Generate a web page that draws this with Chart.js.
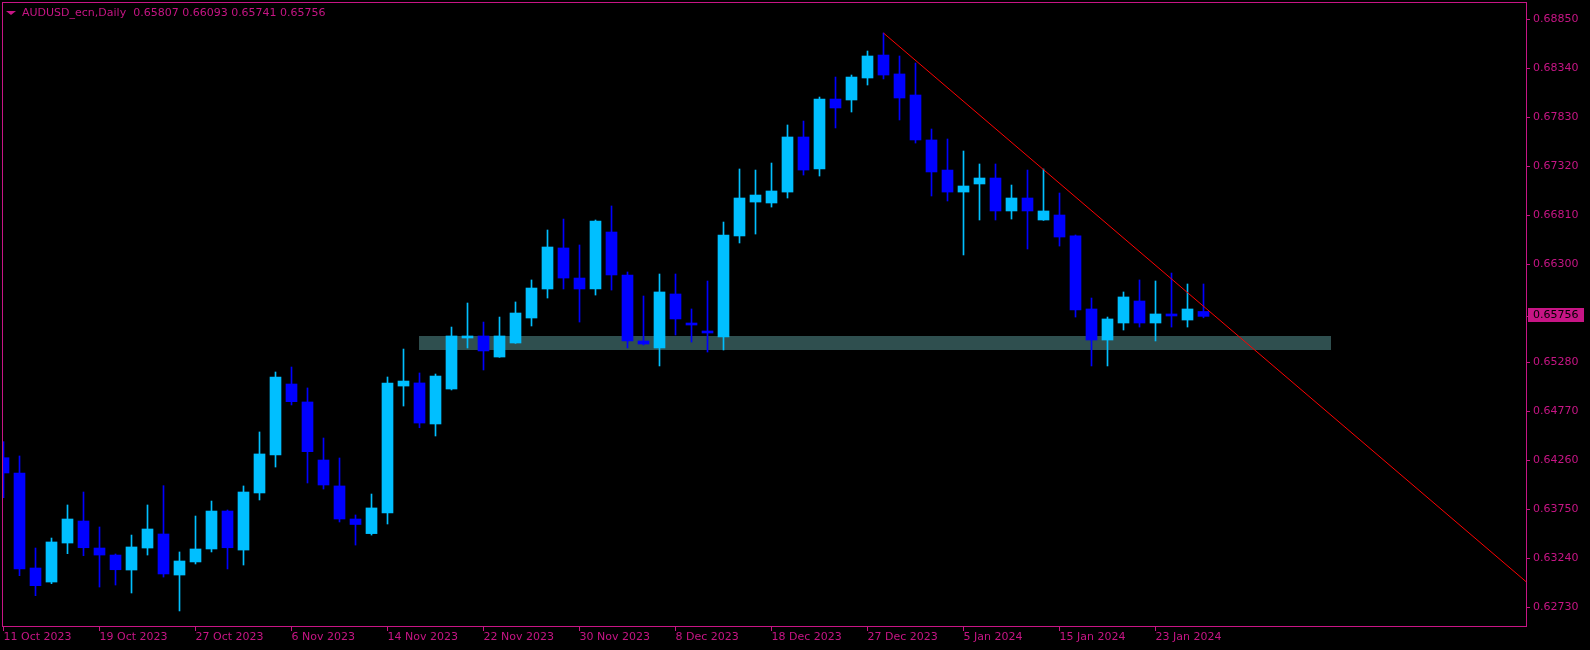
<!DOCTYPE html>
<html>
<head>
<meta charset="utf-8">
<script src="https://cdn.jsdelivr.net/npm/chart.js@4.4.1/dist/chart.umd.min.js"></script>
<style>
  html, body { margin: 0; padding: 0; background: #000; }
  #wrap { position: relative; width: 1590px; height: 650px; }
  #header { position: absolute; left: 22px; top: 6px; font: 11px "DejaVu Sans", sans-serif; line-height: 14px; color: #C71585; white-space: pre; }
  #tri { position: absolute; left: 6px; top: 11px; width: 0; height: 0; border-left: 5px solid transparent; border-right: 5px solid transparent; border-top: 4px solid #C71585; }
</style>
</head>
<body>
<div id="wrap">
  <canvas id="chart" width="1590" height="650"></canvas>
  <div id="tri"></div>
  <div id="header">AUDUSD_ecn,Daily  0.65807 0.66093 0.65741 0.65756</div>
</div>
<script>
//Trading days (one candle each)
const dates = [
  '11 Oct 2023','12 Oct 2023','13 Oct 2023','16 Oct 2023','17 Oct 2023','18 Oct 2023','19 Oct 2023','20 Oct 2023','23 Oct 2023','24 Oct 2023',
  '25 Oct 2023','26 Oct 2023','27 Oct 2023','30 Oct 2023','31 Oct 2023','1 Nov 2023','2 Nov 2023','3 Nov 2023','6 Nov 2023','7 Nov 2023',
  '8 Nov 2023','9 Nov 2023','10 Nov 2023','13 Nov 2023','14 Nov 2023','15 Nov 2023','16 Nov 2023','17 Nov 2023','20 Nov 2023','21 Nov 2023',
  '22 Nov 2023','23 Nov 2023','24 Nov 2023','27 Nov 2023','28 Nov 2023','29 Nov 2023','30 Nov 2023','1 Dec 2023','4 Dec 2023','5 Dec 2023',
  '6 Dec 2023','7 Dec 2023','8 Dec 2023','11 Dec 2023','12 Dec 2023','13 Dec 2023','14 Dec 2023','15 Dec 2023','18 Dec 2023','19 Dec 2023',
  '20 Dec 2023','21 Dec 2023','22 Dec 2023','26 Dec 2023','27 Dec 2023','28 Dec 2023','29 Dec 2023','2 Jan 2024','3 Jan 2024','4 Jan 2024',
  '5 Jan 2024','8 Jan 2024','9 Jan 2024','10 Jan 2024','11 Jan 2024','12 Jan 2024','15 Jan 2024','16 Jan 2024','17 Jan 2024','18 Jan 2024',
  '19 Jan 2024','22 Jan 2024','23 Jan 2024','24 Jan 2024','25 Jan 2024','26 Jan 2024'
];

//OHLC values
const opens = [
  0.64285, 0.64126, 0.63137, 0.62991, 0.63397, 0.63626, 0.63345, 0.63272, 0.63116, 0.63345,
  0.63491, 0.63064, 0.63200, 0.63335, 0.63730, 0.63324, 0.63918, 0.64313, 0.65052, 0.64865,
  0.64261, 0.63991, 0.63647, 0.63495, 0.63710, 0.65031, 0.65063, 0.64636, 0.65000, 0.65531,
  0.65552, 0.65333, 0.65479, 0.65739, 0.66041, 0.66468, 0.66155, 0.66041, 0.66634, 0.66187,
  0.65500, 0.65427, 0.65989, 0.65687, 0.65604, 0.65541, 0.66593, 0.66946, 0.66936, 0.67050,
  0.67623, 0.67290, 0.68018, 0.68008, 0.68237, 0.68476, 0.68279, 0.68060, 0.67592, 0.67279,
  0.67050, 0.67134, 0.67196, 0.66853, 0.66988, 0.66759, 0.66811, 0.66593, 0.65833, 0.65510,
  0.65687, 0.65916, 0.65687, 0.65781, 0.65718, 0.65807
];
const highs = [
  0.64452, 0.64303, 0.63345, 0.63449, 0.63793, 0.63928, 0.63564, 0.63283, 0.63480, 0.63793,
  0.63994, 0.63304, 0.63678, 0.63834, 0.63741, 0.63991, 0.64553, 0.65177, 0.65229, 0.65011,
  0.64490, 0.64282, 0.63689, 0.63907, 0.65125, 0.65416, 0.65167, 0.65156, 0.65645, 0.65895,
  0.65697, 0.65749, 0.65906, 0.66135, 0.66655, 0.66769, 0.66499, 0.66759, 0.66905, 0.66218,
  0.65968, 0.66197, 0.66197, 0.65833, 0.66124, 0.66738, 0.67290, 0.67279, 0.67352, 0.67748,
  0.67789, 0.68039, 0.68247, 0.68268, 0.68518, 0.68705, 0.68466, 0.68393, 0.67706, 0.67602,
  0.67477, 0.67342, 0.67342, 0.67123, 0.67279, 0.67290, 0.67040, 0.66603, 0.65947, 0.65749,
  0.66010, 0.66135, 0.66124, 0.66207, 0.66093, 0.66093
];
const lows = [
  0.63869, 0.63057, 0.62849, 0.62974, 0.63286, 0.63265, 0.62939, 0.62960, 0.62877, 0.63272,
  0.63043, 0.62690, 0.63179, 0.63304, 0.63127, 0.63168, 0.63845, 0.64188, 0.64834, 0.64022,
  0.63959, 0.63616, 0.63376, 0.63480, 0.63595, 0.64823, 0.64597, 0.64511, 0.64990, 0.65427,
  0.65198, 0.65330, 0.65475, 0.65656, 0.65947, 0.66041, 0.65697, 0.65978, 0.66030, 0.65427,
  0.65458, 0.65240, 0.65562, 0.65489, 0.65385, 0.65406, 0.66520, 0.66613, 0.66894, 0.66988,
  0.67227, 0.67217, 0.67717, 0.67883, 0.68164, 0.68227, 0.67800, 0.67560, 0.67009, 0.66957,
  0.66395, 0.66759, 0.66759, 0.66769, 0.66457, 0.66755, 0.66488, 0.65749, 0.65240, 0.65240,
  0.65614, 0.65645, 0.65500, 0.65645, 0.65645, 0.65741
];
const closes = [
  0.64126, 0.63127, 0.62953, 0.63408, 0.63647, 0.63348, 0.63272, 0.63119, 0.63356, 0.63543,
  0.63075, 0.63210, 0.63335, 0.63730, 0.63348, 0.63928, 0.64324, 0.65125, 0.64868, 0.64348,
  0.64001, 0.63647, 0.63590, 0.63762, 0.65063, 0.65083, 0.64646, 0.65135, 0.65552, 0.65552,
  0.65396, 0.65552, 0.65791, 0.66051, 0.66478, 0.66155, 0.66041, 0.66749, 0.66187, 0.65500,
  0.65468, 0.66010, 0.65729, 0.65666, 0.65583, 0.66603, 0.66988, 0.67019, 0.67061, 0.67623,
  0.67279, 0.68018, 0.67925, 0.68247, 0.68466, 0.68268, 0.68029, 0.67592, 0.67259, 0.67050,
  0.67113, 0.67196, 0.66853, 0.66988, 0.66853, 0.66853, 0.66582, 0.65822, 0.65510, 0.65729,
  0.65958, 0.65687, 0.65781, 0.65760, 0.65833, 0.65756
];

//Axis labels
const xTickLabels = ['11 Oct 2023','19 Oct 2023','27 Oct 2023','6 Nov 2023','14 Nov 2023','22 Nov 2023','30 Nov 2023',
  '8 Dec 2023','18 Dec 2023','27 Dec 2023','5 Jan 2024','15 Jan 2024','23 Jan 2024'];
const yTicks = [0.68850, 0.68340, 0.67830, 0.67320, 0.66810, 0.66300, 0.65280, 0.64770, 0.64260, 0.63750, 0.63240, 0.62730];

//Support zone (bar index, price) and the falling trend line
const zoneFrom = 25.97, zoneTo = 82.97;
const zoneTop = 0.65552, zoneBottom = 0.65406;
const trendX = [55, 95.22];
const trendY = [0.68705, 0.62986];

const axisColor = '#C71585';
const bullColor = '#00BFFF';
const bearColor = '#0000FF';

const candleColor = ctx => {
    const i = ctx.dataIndex;
    return closes[i] >= opens[i] ? bullColor : bearColor;
};

const wicks = dates.map((d, i) => ({ x: i, y: [lows[i], highs[i]] }));
const bodies = dates.map((d, i) => ({ x: i, y: [opens[i], closes[i]] }));

//Frame and last price box
const framePlugin = {
    id: 'frame',
    afterDraw(chart) {
        const a = chart.chartArea;
        const c = chart.ctx;
        c.save();
        c.strokeStyle = axisColor;
        c.lineWidth = 1;
        c.strokeRect(a.left + 0.5, a.top + 0.5, a.right - a.left - 1, a.bottom - a.top - 1);

        const last = closes[closes.length - 1];
        const y = Math.round(chart.scales.y.getPixelForValue(last));
        c.fillStyle = axisColor;
        c.fillRect(a.right + 1, y - 8, 56, 14);
        c.fillRect(a.right - 1, y, 2, 1);
        c.fillStyle = '#000';
        c.font = '11px "DejaVu Sans"';
        c.textBaseline = 'middle';
        c.fillText(last.toFixed(5), a.right + 6, y - 1);
        c.restore();
    }
};

Chart.defaults.font.family = '"DejaVu Sans", sans-serif';
Chart.defaults.font.size = 11;

new Chart(document.getElementById('chart').getContext('2d'), {
    type: 'bar',
    data: {
        datasets: [
            {
                type: 'line',
                data: trendX.map((x, i) => ({ x: x, y: trendY[i] })),
                borderColor: '#FF0000',
                borderWidth: 1,
                pointRadius: 0,
                fill: false,
                order: 0
            },
            {
                data: bodies,
                backgroundColor: candleColor,
                barThickness: 11,
                grouped: false,
                minBarLength: 1,
                order: 1
            },
            {
                data: wicks,
                backgroundColor: candleColor,
                barThickness: 1,
                grouped: false,
                order: 2
            },
            {
                type: 'line',
                data: [{ x: zoneFrom, y: zoneTop }, { x: zoneTo, y: zoneTop }],
                borderColor: 'rgba(0,0,0,0)',
                borderWidth: 0,
                pointRadius: 0,
                fill: false,
                order: 20
            },
            {
                type: 'line',
                data: [{ x: zoneFrom, y: zoneBottom }, { x: zoneTo, y: zoneBottom }],
                borderColor: 'rgba(0,0,0,0)',
                borderWidth: 0,
                pointRadius: 0,
                fill: '-1',
                backgroundColor: '#2F4F4F',
                order: 19
            }
        ]
    },
    options: {
        responsive: false,
        animation: false,
        events: [],
        layout: { padding: { left: 2, top: 2, right: 0, bottom: 0 } },
        plugins: {
            legend: { display: false },
            tooltip: { enabled: false }
        },
        scales: {
            x: {
                type: 'linear',
                offset: false,
                min: -0.09375,
                max: 95.21875,
                border: { display: false },
                grid: { display: true, offset: false, drawOnChartArea: false, drawTicks: true, tickLength: 4, color: axisColor },
                afterFit: s => { s.height = 23; s.paddingLeft = 0; s.paddingRight = 0; },
                afterBuildTicks: s => { s.ticks = xTickLabels.map(l => ({ value: dates.indexOf(l) })); },
                ticks: {
                    color: axisColor,
                    align: 'start',
                    autoSkip: false,
                    maxRotation: 0,
                    padding: 0,
                    callback: v => dates[v]
                }
            },
            y: {
                position: 'right',
                min: 0.62523,
                max: 0.69028,
                border: { display: false },
                grid: { display: true, drawOnChartArea: false, drawTicks: true, tickLength: 3, color: axisColor },
                afterFit: s => { s.width = 63; s.paddingTop = 0; s.paddingBottom = 0; },
                afterBuildTicks: s => { s.ticks = yTicks.map(v => ({ value: v })); },
                ticks: {
                    color: axisColor,
                    padding: 3,
                    callback: v => v.toFixed(5)
                }
            }
        }
    },
    plugins: [framePlugin]
});
</script>
</body>
</html>
